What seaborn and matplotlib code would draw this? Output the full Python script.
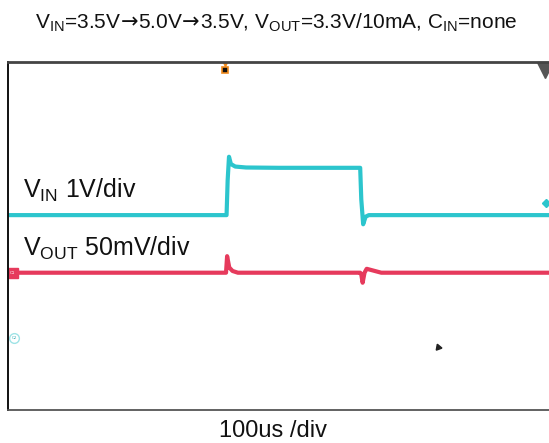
import matplotlib
matplotlib.use("Agg")
import matplotlib.pyplot as plt
import numpy as np
import pandas as pd
import seaborn as sns

# Scope capture: time in microseconds, 100 us per division over 10 divisions
t_vin = [0, 404, 406, 408.5, 412, 420, 440, 500, 651, 653, 656.5, 661, 667, 1000]
vin_volts = [3.5, 3.5, 4.6, 5.35, 5.12, 5.04, 5.01, 5.0, 5.0, 4.0, 3.21, 3.45, 3.5, 3.5]

t_vout = [0, 403, 405, 409, 415, 425, 651, 653, 655.5, 659, 663, 672, 690, 1000]
vout_dev_mv = [0, 0, 19, 6, 2, 0, 0, -2, -11.5, 0, 4.5, 3, 0, 0]

ARROW = r"$\!\mathsf{\rightarrow}\!$"
title_text = (r"$\mathregular{V_{IN}}$=3.5V" + ARROW + "5.0V" + ARROW + "3.5V, "
              r"$\mathregular{V_{OUT}}$=3.3V/10mA, $\mathregular{C_{IN}}$=none")
vin_label = r"$\mathregular{V_{IN}}$ 1V/div"
vout_label = r"$\mathregular{V_{OUT}}$ 50mV/div"
time_label = "100us /div"

# Screen placement of each channel (divisions from the bottom of the graticule)
VIN_OFFSET, VIN_GAIN = 4.48, 0.725      # div at 3.5 V, div per volt on screen
VOUT_OFFSET, VOUT_SCALE = 3.156, 50.0   # div at 3.3 V, mV per div

CYAN = "#2cc5cd"
RED = "#e63a5c"

sns.set_theme(style="white")
plt.rcParams["font.family"] = ["Liberation Sans", "DejaVu Sans"]
plt.rcParams["mathtext.fontset"] = "custom"
plt.rcParams["mathtext.rm"] = "Liberation Sans"
plt.rcParams["mathtext.sf"] = "DejaVu Sans"

vin_df = pd.DataFrame({"t": t_vin,
                       "div": VIN_OFFSET + (np.array(vin_volts) - 3.5) * VIN_GAIN})
vout_df = pd.DataFrame({"t": t_vout,
                        "div": VOUT_OFFSET + np.array(vout_dev_mv) / VOUT_SCALE})

fig = plt.figure(figsize=(5.49, 4.43), dpi=100)
ax = fig.add_axes([8 / 549, 33 / 443, 541 / 549, 348 / 443])

sns.lineplot(data=vin_df, x="t", y="div", ax=ax, color=CYAN, lw=3.0,
             estimator=None, sort=False)
sns.lineplot(data=vout_df, x="t", y="div", ax=ax, color=RED, lw=3.0,
             estimator=None, sort=False)

ax.set_xlim(0, 1000)
ax.set_ylim(0, 8)
ax.set_xticks([])
ax.set_yticks([])
ax.set_xlabel("")
ax.set_ylabel("")

ax.spines["right"].set_visible(False)
ax.spines["left"].set_color("#111111")
ax.spines["left"].set_linewidth(1.4)
ax.spines["top"].set_color("#444444")
ax.spines["top"].set_linewidth(2.0)
ax.spines["bottom"].set_color("#555555")
ax.spines["bottom"].set_linewidth(1.3)

# Channel markers on the left edge
ax.plot([9], [VOUT_OFFSET], marker="s", ms=7, color=RED, mec=RED, clip_on=False)
ax.text(9, VOUT_OFFSET, "C1", fontsize=3, color="white", ha="center", va="center")
ax.plot([11], [1.655], marker="o", ms=7, mfc="white", mec="#9fe3e6", mew=1.0)
ax.text(11, 1.655, "C2", fontsize=3, color="#2aa7b0", ha="center", va="center")

# Trigger position marker and trigger level marker
ax.plot([402], [7.82], marker="s", ms=4, color="#111111", mec="#f08a1c", mew=1.2)
ax.plot([402], [7.97], marker="v", ms=4, color="#f08a1c", mec="#f08a1c")
ax.plot([994], [4.76], marker="D", ms=4, color=CYAN, mec=CYAN, clip_on=False)
ax.plot([992], [7.82], marker="v", ms=11, color="#555555", mec="#555555", clip_on=False)

# Mouse pointer
ax.plot([795], [1.45], marker=(3, 0, 20), ms=5, color="#222222")

# Channel labels
ax.text(27, 5.05, vin_label, fontsize=18, color="#111111", ha="left", va="center")
ax.text(27, 3.72, vout_label, fontsize=18, color="#111111", ha="left", va="center")

fig.text(276 / 549, 1 - 23 / 443, title_text, fontsize=15, color="#111111",
         ha="center", va="center")
fig.text(273 / 549, 1 - 431 / 443, time_label, fontsize=17, color="#111111",
         ha="center", va="center")

fig.savefig("out.png", dpi=100)
